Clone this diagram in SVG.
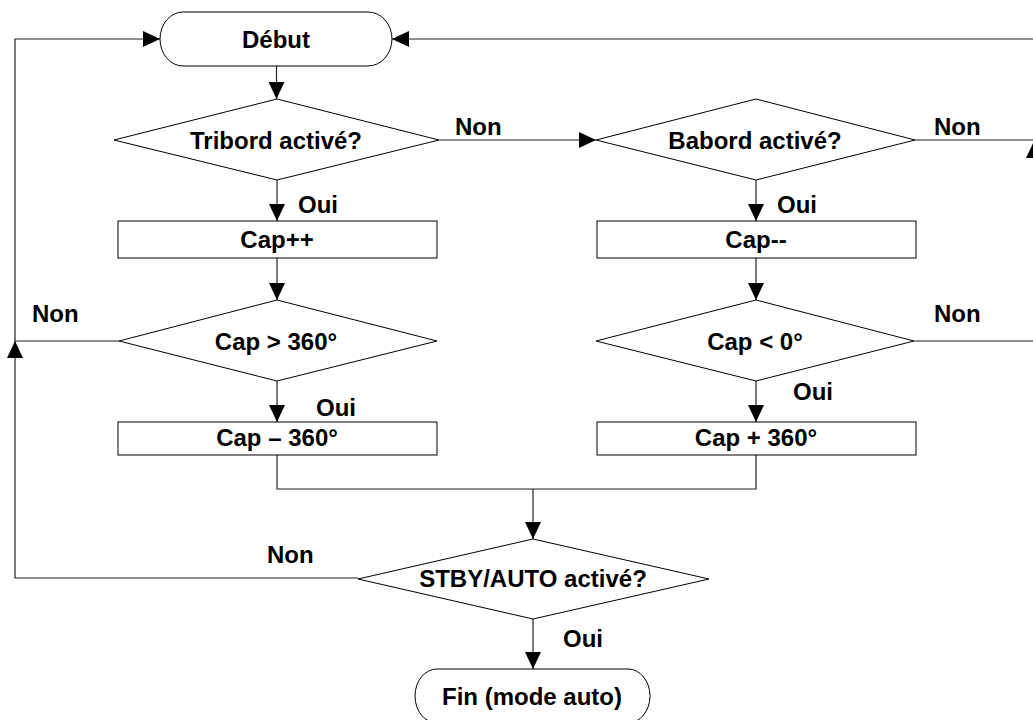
<svg xmlns="http://www.w3.org/2000/svg" width="1033" height="720" viewBox="0 0 1033 720">
<defs>
<marker id="ah" markerUnits="userSpaceOnUse" markerWidth="17" markerHeight="16" refX="17" refY="8" orient="auto">
<path d="M0,0 L17,8 L0,16 z" fill="#000"/>
</marker>
<style>
.shape{fill:#fff;stroke:#000;stroke-width:1}
.conn{fill:none;stroke:#222;stroke-width:1.2}
.arr{marker-end:url(#ah)}
text{font-family:"Liberation Sans",Arial,sans-serif;font-weight:bold;font-size:24px;fill:#000}
.c{text-anchor:middle}
</style>
</defs>
<rect width="1033" height="720" fill="#fff"/>
<g id="connectors">
<path class="conn arr" d="M276.5 66 V99"/>
<path class="conn arr" d="M439 140 H596"/>
<path class="conn arr" d="M277 180 V221"/>
<path class="conn arr" d="M756 180 V221"/>
<path class="conn arr" d="M277 258 V300"/>
<path class="conn arr" d="M756 258 V300"/>
<path class="conn arr" d="M277 381 V422"/>
<path class="conn arr" d="M756 381 V422"/>
<path class="conn" d="M277 455 V489 H756 V455"/>
<path class="conn arr" d="M533 489 V539"/>
<path class="conn arr" d="M533 619 V669"/>
<path class="conn arr" d="M358 578 H15 V341"/>
<path class="conn arr" d="M119 341 H15 V39 H160"/>
<path class="conn arr" d="M915 140 H1034 V39 H392"/>
<path class="conn arr" d="M914 341 H1034 V141"/>
</g>
<g id="debut">
<path class="shape" d="M183 12 H368 A24 27 0 0 1 368 66 H183 A23 27 0 0 1 183 12 Z"/>
<text class="c" x="276" y="48">Début</text>
</g>
<g id="tribord">
<polygon class="shape" points="114,140 277,99 439,140 277,180"/>
<text class="c" x="276" y="149">Tribord activé?</text>
</g>
<g id="babord">
<polygon class="shape" points="596,140 756,99 915,140 756,180"/>
<text class="c" x="755" y="149">Babord activé?</text>
</g>
<g id="capplus">
<rect class="shape" x="118" y="221" width="319" height="37"/>
<text class="c" x="277" y="248">Cap++</text>
</g>
<g id="capmoins">
<rect class="shape" x="597" y="221" width="319" height="37"/>
<text class="c" x="756" y="248">Cap--</text>
</g>
<g id="capsup360">
<polygon class="shape" points="119,341 277,300 437,341 277,381"/>
<text class="c" x="276" y="350">Cap &gt; 360°</text>
</g>
<g id="capinf0">
<polygon class="shape" points="596,341 756,300 914,341 756,381"/>
<text class="c" x="755" y="350">Cap &lt; 0°</text>
</g>
<g id="capminus360">
<rect class="shape" x="118" y="422" width="319" height="33"/>
<text class="c" x="277" y="446">Cap – 360°</text>
</g>
<g id="capplus360">
<rect class="shape" x="597" y="422" width="319" height="33"/>
<text class="c" x="756" y="446">Cap + 360°</text>
</g>
<g id="stby">
<polygon class="shape" points="358,579 533,539 709,579 533,619"/>
<text class="c" x="533" y="587">STBY/AUTO activé?</text>
</g>
<g id="fin">
<path class="shape" d="M437 669 H628 A22 27 0 0 1 628 723 H437 A22 27 0 0 1 437 669 Z"/>
<text class="c" x="532" y="705">Fin (mode auto)</text>
</g>
<g id="labels">
<text x="455" y="135">Non</text>
<text x="934" y="135">Non</text>
<text x="298" y="213">Oui</text>
<text x="777" y="213">Oui</text>
<text x="32" y="322">Non</text>
<text x="934" y="322">Non</text>
<text x="316" y="416">Oui</text>
<text x="793" y="400">Oui</text>
<text x="267" y="563">Non</text>
<text x="563" y="647">Oui</text>
</g>
</svg>
